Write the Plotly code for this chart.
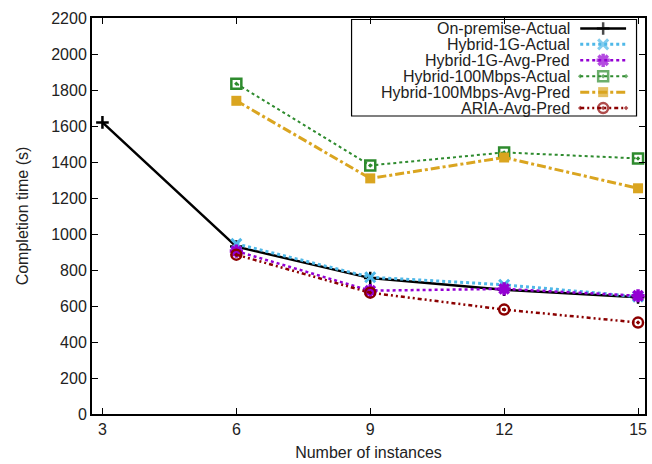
import plotly.graph_objects as go

instances = [3, 6, 9, 12, 15]
x_hybrid = [6, 9, 12, 15]

on_premise_actual = [1620, 930, 755, 690, 648]
hybrid_1g_actual = [945, 760, 718, 652]
hybrid_1g_avg_pred = [905, 685, 695, 657]
hybrid_100m_actual = [1835, 1381, 1453, 1420]
hybrid_100m_avg_pred = [1740, 1309, 1425, 1254]
aria_avg_pred = [885, 674, 580, 508]

names = ["On-premise-Actual", "Hybrid-1G-Actual", "Hybrid-1G-Avg-Pred",
         "Hybrid-100Mbps-Actual", "Hybrid-100Mbps-Avg-Pred", "ARIA-Avg-Pred"]
xs = [instances, x_hybrid, x_hybrid, x_hybrid, x_hybrid, x_hybrid]
ys = [on_premise_actual, hybrid_1g_actual, hybrid_1g_avg_pred,
      hybrid_100m_actual, hybrid_100m_avg_pred, aria_avg_pred]

styles = [
    dict(color="#000000", dash="solid", width=2.5, symbol="cross-thin", msize=9, mlw=2.5),
    dict(color="#4fb8e8", dash="dot", width=3, symbol="x-thin", msize=10, mlw=3),
    dict(color="#9400d3", dash="dot", width=2.5, symbol="asterisk-open", msize=11, mlw=3.5),
    dict(color="#2e8b2e", dash="dot", width=2, symbol="square-open-dot", msize=10, mlw=2.5),
    dict(color="#daa520", dash="dashdot", width=3, symbol="square", msize=10, mlw=0),
    dict(color="#8b0000", dash="4px,3px,2px,3px,2px,3px", width=2.5, symbol="circle-open-dot", msize=10, mlw=2.5),
]
marker_line_colors = ["#000000", "#4fb8e8", "#9400d3", "#006400", "#daa520", "#8b0000"]

FONT = "Liberation Sans, Arial"

fig = go.Figure()
for n, x, y, s, mlc in zip(names, xs, ys, styles, marker_line_colors):
    fig.add_trace(go.Scatter(
        x=x, y=y, name=n, mode="lines+markers", showlegend=False,
        line=dict(color=s["color"], dash=s["dash"], width=s["width"]),
        marker=dict(symbol=s["symbol"], size=s["msize"], color=s["color"],
                    line=dict(color=mlc, width=s["mlw"])),
    ))

# custom legend (text left of samples, gnuplot style) in paper-like overlay axes
L, R, T, B = 92, 647, 18, 416
W, H = float(R - L), float(B - T)
def px(v):
    return (v - L) / W
def py(v):
    return (B - v) / H

row_y = [28.5, 44.5, 60.5, 76.5, 92.5, 108.5]
for i, (n, s, mlc) in enumerate(zip(names, styles, marker_line_colors)):
    yy = py(row_y[i])
    fig.add_trace(go.Scatter(
        x=[px(582), px(605), px(628)], y=[yy, yy, yy], xaxis="x2", yaxis="y2",
        mode="lines+markers", showlegend=False, hoverinfo="skip",
        line=dict(color=s["color"], dash=s["dash"], width=s["width"]),
        marker=dict(symbol=s["symbol"], size=[0, s["msize"], 0], color=s["color"],
                    line=dict(color=mlc, width=s["mlw"])),
    ))
    fig.add_annotation(xref="paper", yref="paper", x=px(574), y=yy, text=n,
                       showarrow=False, xanchor="right", yanchor="middle",
                       font=dict(family=FONT, size=16, color="#222"))

fig.add_shape(type="rect", xref="paper", yref="paper",
              x0=px(352.5), x1=px(638.5), y0=py(116.5), y1=py(19.5),
              line=dict(color="black", width=1.2), fillcolor="rgba(255,255,255,1)", layer="below")

fig.update_layout(
    width=652, height=464,
    margin=dict(l=L, r=652 - R, t=T, b=464 - B),
    paper_bgcolor="white", plot_bgcolor="white",
    font=dict(family=FONT, size=16, color="#222"),
    xaxis=dict(range=[2.766, 15.156], tickvals=instances, ticktext=[str(v) for v in instances],
               showline=True, linecolor="black", linewidth=2, mirror="ticks",
               ticks="inside", ticklen=6, tickcolor="black", tickwidth=1.2,
               showgrid=False, zeroline=False,
               title=dict(text="Number of instances", standoff=10, font=dict(size=16))),
    yaxis=dict(range=[0, 2200], dtick=200,
               showline=True, linecolor="black", linewidth=2, mirror="ticks",
               ticks="inside", ticklen=6, tickcolor="black", tickwidth=1.2,
               showgrid=False, zeroline=False,
               title=dict(text="Completion time (s)", standoff=19, font=dict(size=16))),
    xaxis2=dict(range=[0, 1], overlaying="x", visible=False, fixedrange=True),
    yaxis2=dict(range=[0, 1], overlaying="y", visible=False, fixedrange=True),
)

fig.write_html("out.html", config={"displayModeBar": False},
               post_script="document.body.style.margin='0';")
